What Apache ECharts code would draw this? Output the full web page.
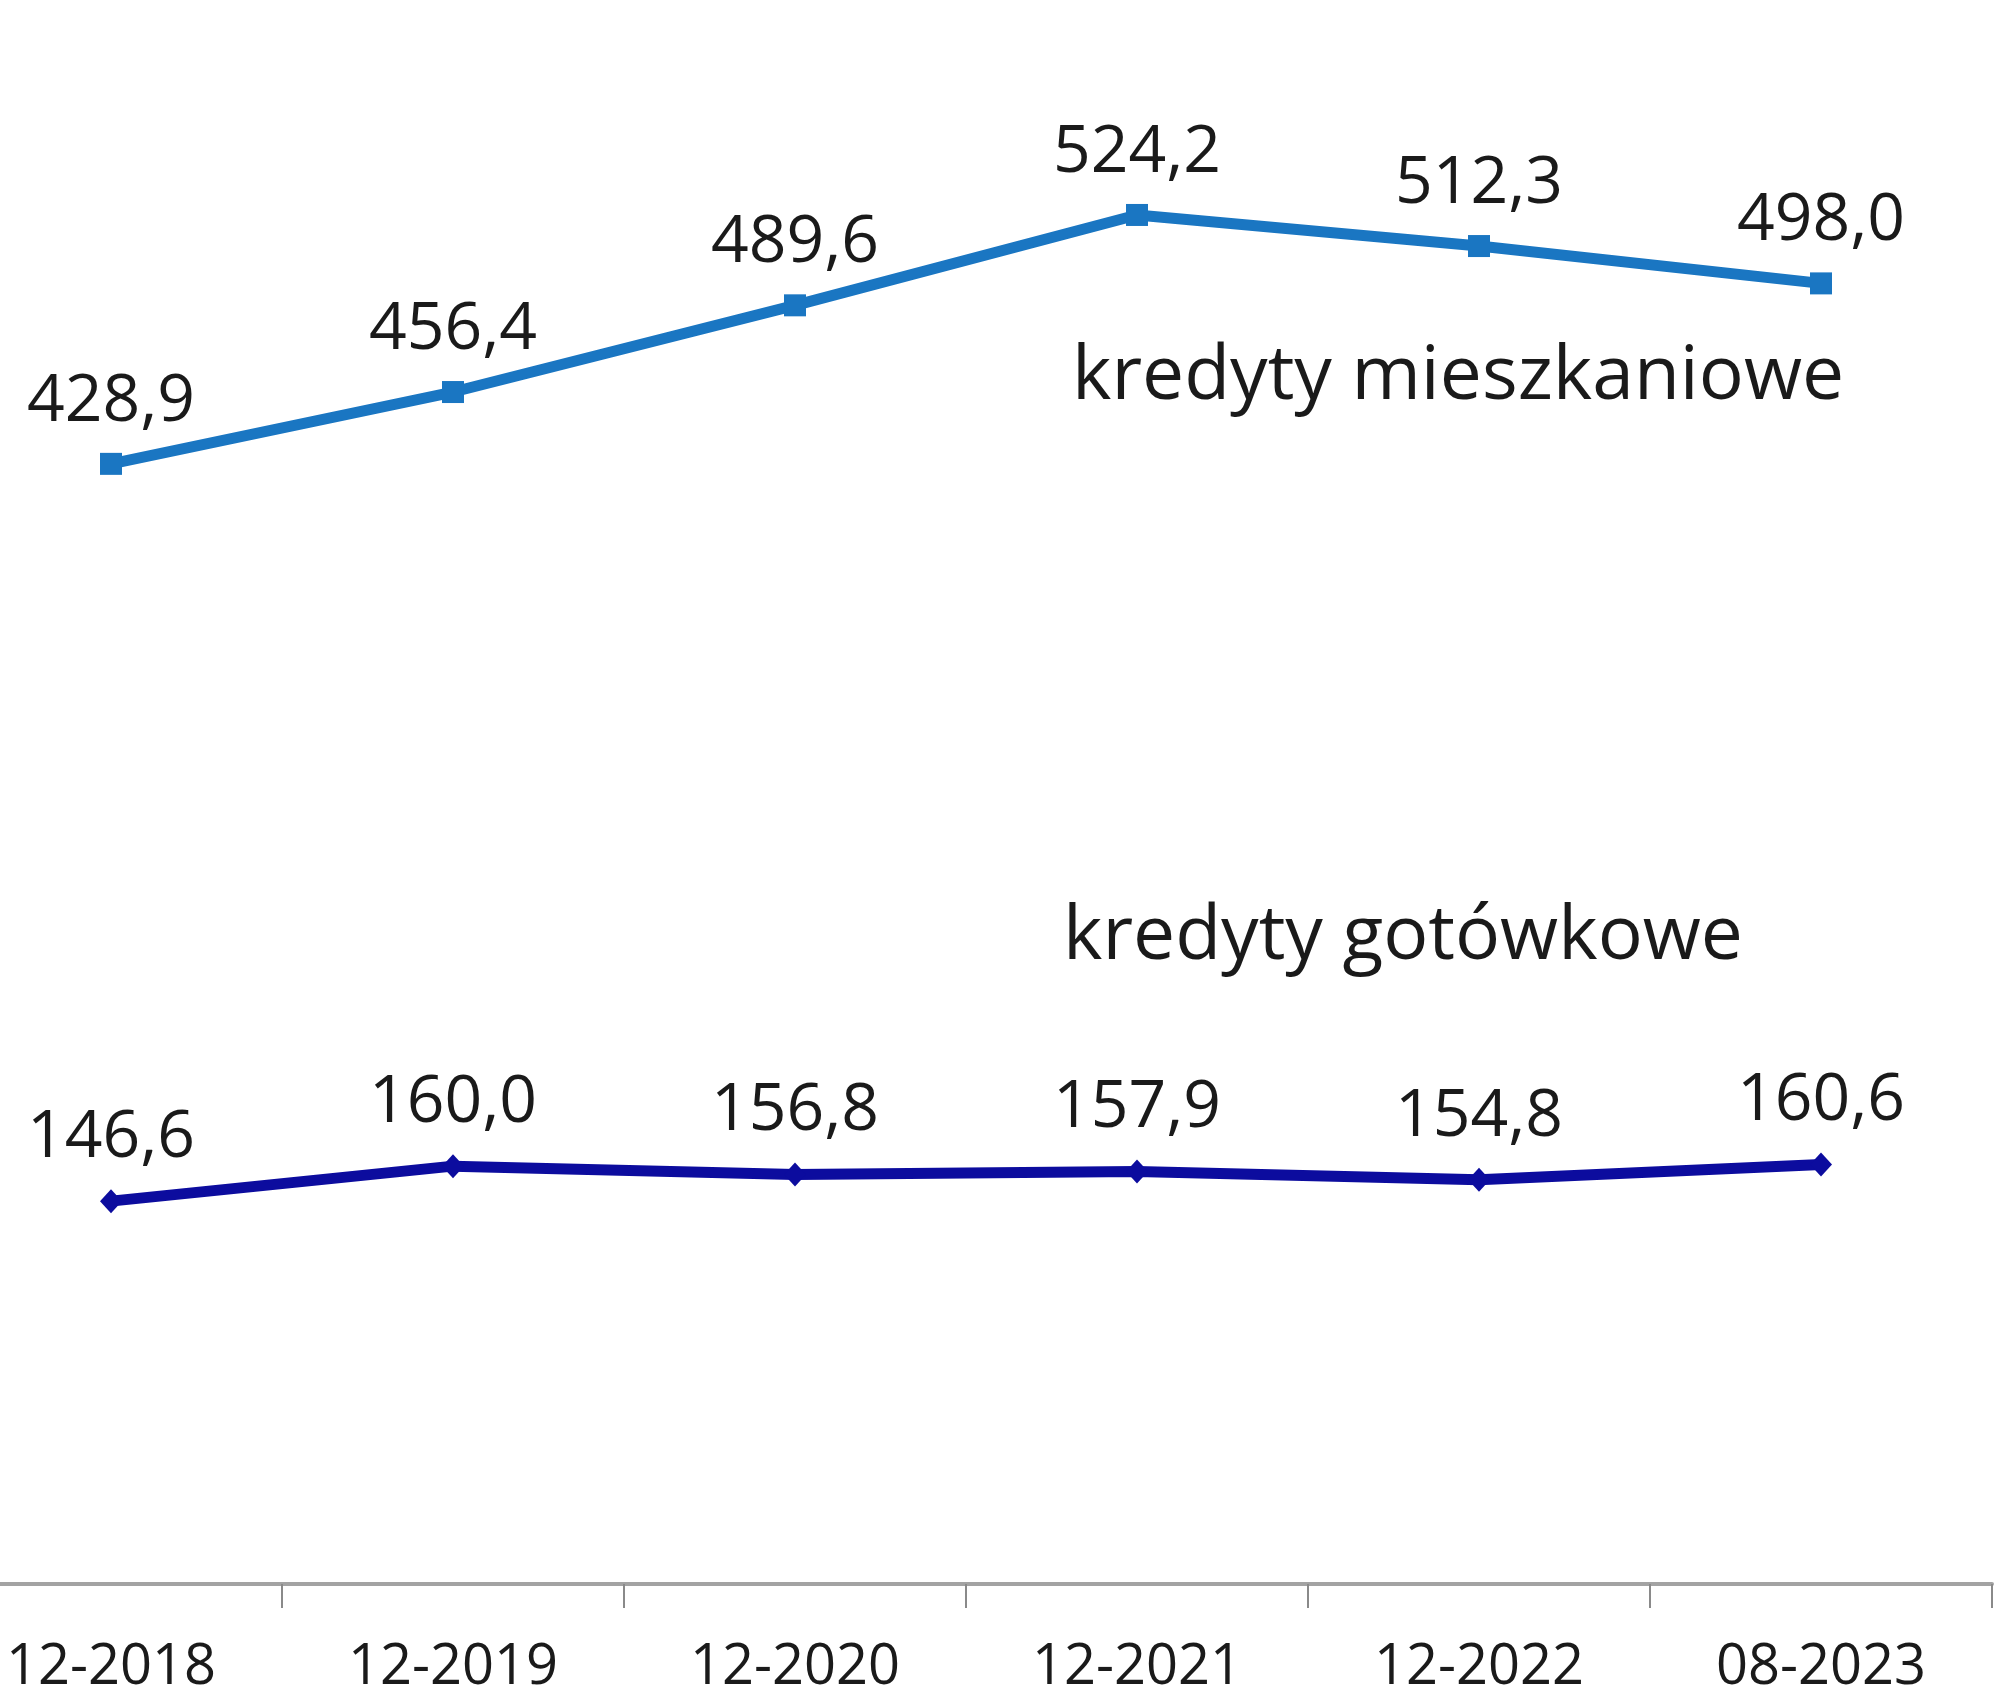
<!DOCTYPE html>
<html>
<head>
<meta charset="utf-8">
<script src="https://cdn.jsdelivr.net/npm/echarts@6/dist/echarts.min.js"></script>
<style>
html,body{margin:0;padding:0;background:#fff;overflow:hidden;}
#chart{position:absolute;left:-60px;top:0;width:2054px;height:1696px;}
</style>
</head>
<body>
<div id="chart"></div>
<script>
const categories = ['12-2018', '12-2019', '12-2020', '12-2021', '12-2022', '08-2023'];
const mieszkaniowe = [428.9, 456.4, 489.6, 524.2, 512.3, 498.0];
const gotowkowe = [146.6, 160.0, 156.8, 157.9, 154.8, 160.6];
const seriesNames = ['kredyty mieszkaniowe', 'kredyty gotówkowe'];

const FONT = '"Open Sans", "DejaVu Sans", sans-serif';
const fmt = v => v.toFixed(1).replace('.', ',');

const chart = echarts.init(document.getElementById('chart'), null, {renderer: 'canvas'});
chart.setOption({
  backgroundColor: '#ffffff',
  animation: false,
  grid: {left: 0, right: 2, top: 17, bottom: 107, containLabel: false},
  xAxis: {
    type: 'category',
    data: categories,
    boundaryGap: true,
    axisLine: {show: true, lineStyle: {color: '#a3a3a3', width: 4}},
    axisTick: {show: true, length: 24, lineStyle: {color: '#8a8a8a', width: 2}},
    axisLabel: {fontFamily: FONT, fontSize: 56, color: '#1a1a1a', margin: 56}
  },
  yAxis: {
    type: 'value', min: 0, max: 600, interval: 100, show: false,
    splitLine: {show: false}
  },
  graphic: [
    {type: 'text', left: 1132, top: 340, style: {text: seriesNames[0], font: '75px "Open Sans", sans-serif', fill: '#1a1a1a'}},
    {type: 'text', left: 1123, top: 900, style: {text: seriesNames[1], font: '75px "Open Sans", sans-serif', fill: '#1a1a1a'}}
  ],
  series: [
    {
      name: seriesNames[0], type: 'line', data: mieszkaniowe,
      symbol: 'rect', symbolSize: 22, showAllSymbol: true,
      lineStyle: {color: '#1a76c2', width: 11},
      itemStyle: {color: '#1a76c2'},
      label: {show: true, position: 'top', distance: 18, formatter: p => fmt(p.value),
        fontFamily: FONT, fontSize: 66, color: '#1a1a1a'}
    },
    {
      name: seriesNames[1], type: 'line', data: gotowkowe,
      symbol: 'diamond', symbolSize: [22, 24], showAllSymbol: true,
      lineStyle: {color: '#0c0c9e', width: 11},
      itemStyle: {color: '#0c0c9e'},
      label: {show: true, position: 'top', distance: 18, formatter: p => fmt(p.value),
        fontFamily: FONT, fontSize: 66, color: '#1a1a1a'}
    }
  ]
});
</script>
</body>
</html>
